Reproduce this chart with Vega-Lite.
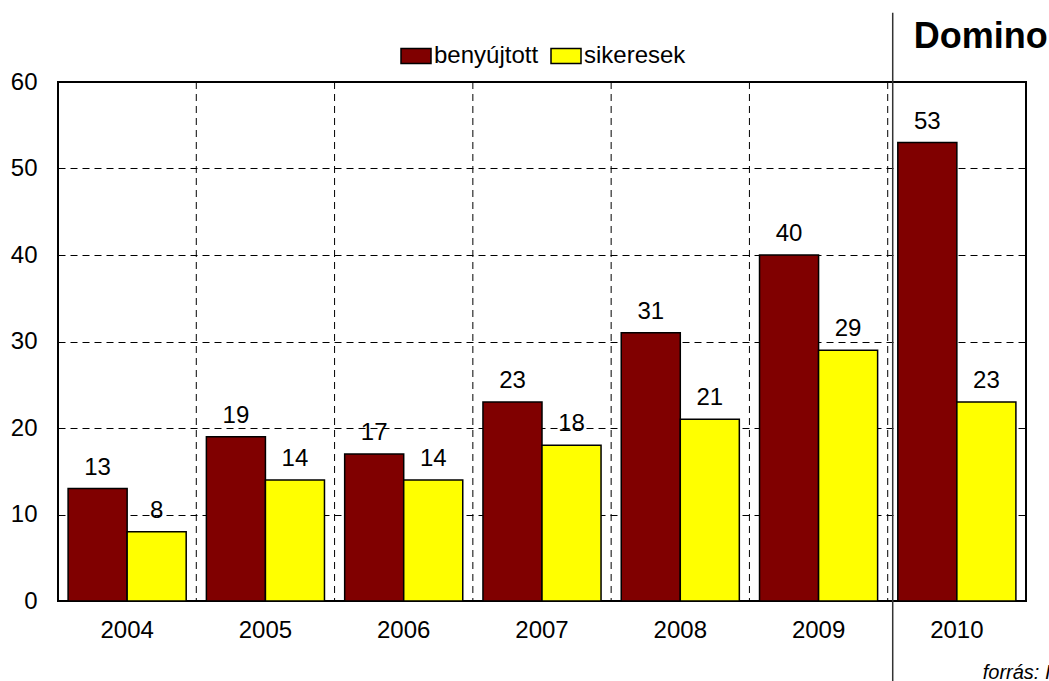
{
  "$schema": "https://vega.github.io/schema/vega-lite/v6.json",
  "width": 968,
  "height": 519,
  "autosize": {"type": "none"},
  "padding": {"left": 58, "top": 82, "right": 23, "bottom": 80},
  "background": "white",
  "config": {
    "view": {"stroke": "black", "strokeWidth": 2},
    "font": "Liberation Sans",
    "text": {"font": "Liberation Sans"}
  },
  "datasets": {
    "main": [
      {"year": "2004", "series": "benyújtott", "value": 13},
      {"year": "2004", "series": "sikeresek", "value": 8},
      {"year": "2005", "series": "benyújtott", "value": 19},
      {"year": "2005", "series": "sikeresek", "value": 14},
      {"year": "2006", "series": "benyújtott", "value": 17},
      {"year": "2006", "series": "sikeresek", "value": 14},
      {"year": "2007", "series": "benyújtott", "value": 23},
      {"year": "2007", "series": "sikeresek", "value": 18},
      {"year": "2008", "series": "benyújtott", "value": 31},
      {"year": "2008", "series": "sikeresek", "value": 21},
      {"year": "2009", "series": "benyújtott", "value": 40},
      {"year": "2009", "series": "sikeresek", "value": 29},
      {"year": "2010", "series": "benyújtott", "value": 53},
      {"year": "2010", "series": "sikeresek", "value": 23}
    ],
    "years": [
      {"year": "2005"}, {"year": "2006"}, {"year": "2007"}, {"year": "2008"}, {"year": "2009"}, {"year": "2010"}
    ],
    "last": [{"year": "2010"}]
  },
  "data": {"name": "main"},
  "layer": [
    {
      "data": {"name": "years"},
      "mark": {"type": "rule", "color": "black", "strokeWidth": 1, "strokeDash": [7, 5]},
      "encoding": {
        "x": {
          "field": "year", "type": "nominal", "bandPosition": 0, "title": null,
          "scale": {"domain": ["2004", "2005", "2006", "2007", "2008", "2009", "2010"], "paddingInner": 0, "paddingOuter": 0},
          "axis": {"bandPosition": 0.5, "domain": false, "ticks": false, "grid": false, "labelAngle": 0, "labelFontSize": 24, "labelColor": "black", "labelPadding": 17, "labelFont": "Liberation Sans"}
        }
      }
    },
    {
      "mark": {"type": "bar", "stroke": "black", "strokeWidth": 1.5},
      "encoding": {
        "x": {
          "field": "year", "type": "nominal", "title": null,
          "axis": {"bandPosition": 0.5, "domain": false, "ticks": false, "grid": false, "labelAngle": 0, "labelFontSize": 24, "labelColor": "black", "labelPadding": 17, "labelFont": "Liberation Sans"}
        },
        "xOffset": {"field": "series", "type": "nominal", "scale": {"paddingInner": 0, "paddingOuter": 0.171}},
        "y": {
          "field": "value", "type": "quantitative", "title": null,
          "scale": {"domain": [0, 60], "nice": false, "zero": true},
          "axis": {"values": [0, 10, 20, 30, 40, 50, 60], "domain": false, "ticks": false, "grid": true, "gridColor": "black", "gridDash": [7, 5], "gridWidth": 1, "gridOpacity": 1, "labelFontSize": 24, "labelColor": "black", "labelPadding": 21, "labelFont": "Liberation Sans"}
        },
        "color": {
          "field": "series", "type": "nominal",
          "scale": {"domain": ["benyújtott", "sikeresek"], "range": ["#800000", "#FFFF00"]},
          "legend": {
            "title": null, "orient": "none", "direction": "horizontal", "legendX": 342, "legendY": -42,
            "symbolType": "M-1,-0.5H1V0.5H-1Z", "symbolSize": 900, "symbolStrokeColor": "black", "symbolStrokeWidth": 1.5,
            "labelFontSize": 24, "labelFont": "Liberation Sans", "labelColor": "black", "labelOffset": 2, "columnPadding": 9
          }
        }
      }
    },
    {
      "mark": {"type": "text", "baseline": "alphabetic", "dy": -14, "fontSize": 24, "color": "black"},
      "encoding": {
        "x": {"field": "year", "type": "nominal"},
        "xOffset": {"field": "series", "type": "nominal"},
        "y": {"field": "value", "type": "quantitative"},
        "text": {"field": "value", "type": "quantitative"}
      }
    },
    {
      "data": {"name": "last"},
      "mark": {"type": "rule", "color": "#333333", "strokeWidth": 1.5, "xOffset": 5},
      "encoding": {
        "x": {"field": "year", "type": "nominal", "bandPosition": 0},
        "y": {"datum": 68},
        "y2": {"datum": -9.5}
      }
    },
    {
      "data": {"name": "last"},
      "mark": {"type": "text", "text": "Domino", "align": "left", "baseline": "alphabetic", "fontSize": 36, "fontWeight": "bold", "color": "black", "xOffset": 26},
      "encoding": {
        "x": {"field": "year", "type": "nominal", "bandPosition": 0},
        "y": {"datum": 63.9}
      }
    },
    {
      "data": {"name": "last"},
      "mark": {"type": "text", "text": "forrás: I", "align": "left", "baseline": "alphabetic", "fontSize": 20, "fontStyle": "italic", "color": "black", "xOffset": 95},
      "encoding": {
        "x": {"field": "year", "type": "nominal", "bandPosition": 0},
        "y": {"datum": -9.05}
      }
    }
  ]
}
